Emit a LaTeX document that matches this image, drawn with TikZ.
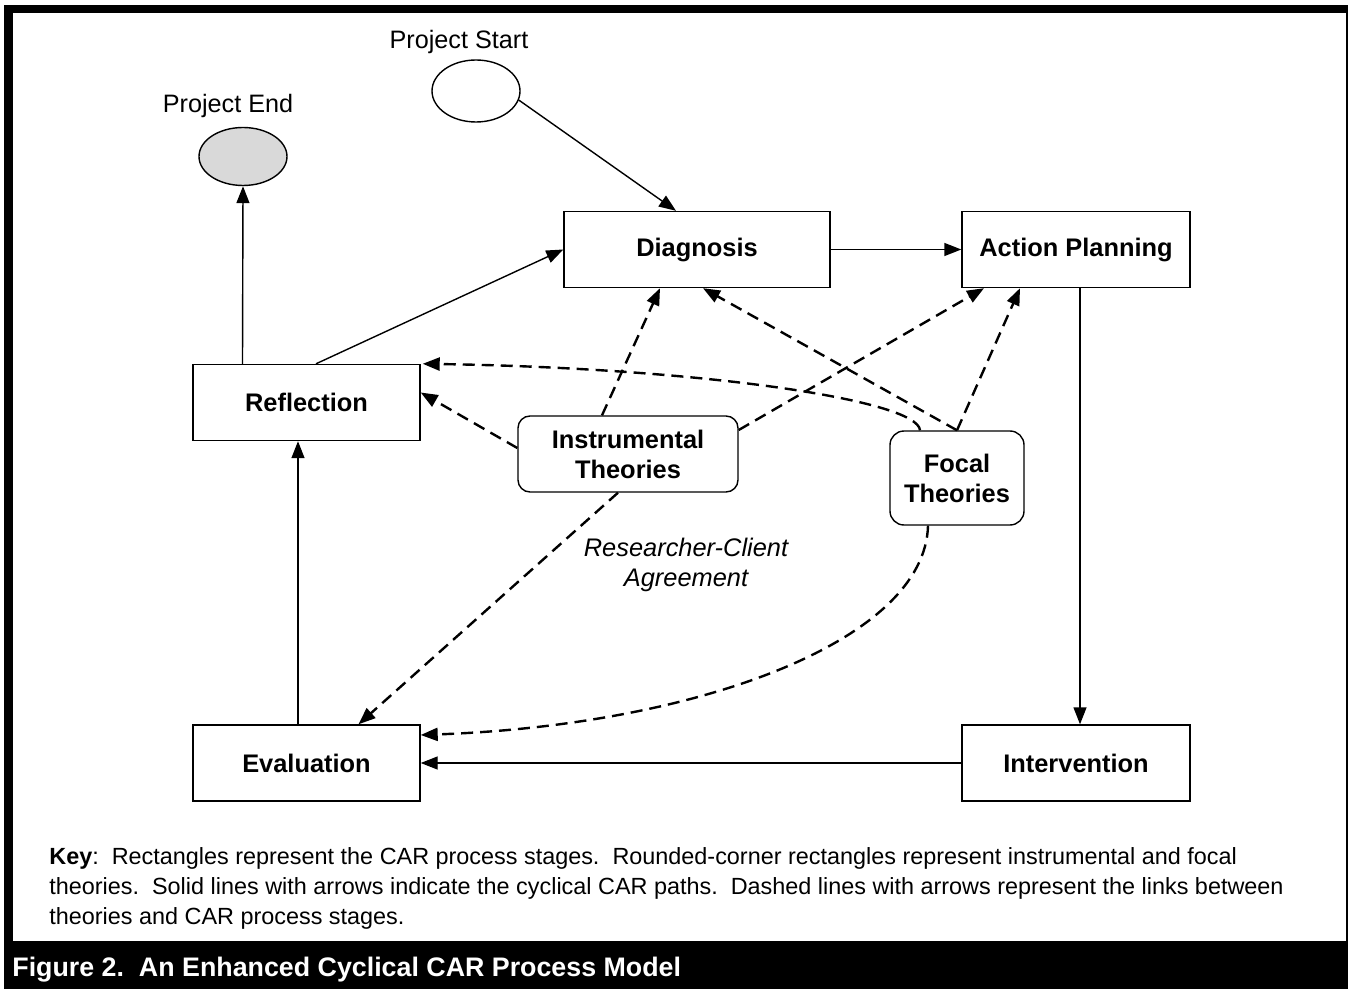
\documentclass[tikz,border=0pt]{standalone}
\usepackage{fontspec}
\setmainfont{Liberation Sans}
\usetikzlibrary{arrows.meta,shapes.geometric}
\definecolor{endgray}{HTML}{D9D9D9}

\begin{document}
\begin{tikzpicture}[x=0.5pt,y=-0.5pt,
  stagebox/.style={draw, line width=0.7pt, minimum width=114pt, minimum height=38pt,
    inner sep=0pt, font=\fontsize{12.7}{15}\selectfont\bfseries},
  theorybox/.style={draw, line width=0.7pt, rounded corners=7pt, inner sep=0pt,
    align=center, font=\fontsize{12.7}{15}\selectfont\bfseries},
  endpoint/.style={draw, ellipse, line width=0.7pt, inner sep=0pt,
    minimum width=44pt, minimum height=31pt},
  plainlabel/.style={inner sep=0pt, font=\fontsize{12.6}{15}\selectfont},
  keytext/.style={inner sep=0pt, anchor=base west, font=\fontsize{11.7}{15}\selectfont},
  cyclepath/.style={line width=0.7pt, -{Triangle[length=8.5pt,width=6.5pt]}},
  theorylink/.style={line width=1.2pt, dash pattern=on 6pt off 3.5pt,
    -{Triangle[length=8.5pt,width=6.5pt]}},
]
\useasboundingbox (0,0) rectangle (1348,989);

% frame and caption bar
\fill[black] (4,5) rectangle (1348,989);
\fill[white] (13,13) rectangle (1346,941);

% process stages
\node[stagebox, minimum width=133pt] (diag) at (697,249.5) {Diagnosis};
\node[stagebox] (plan) at (1076,249.5) {Action Planning};
\node[stagebox, minimum width=113.5pt] (refl) at (306.5,402.5) {Reflection};
\node[stagebox, minimum width=113.5pt] (eval) at (306.5,763) {Evaluation};
\node[stagebox] (intv) at (1076,763) {Intervention};

% theories
\node[theorybox, minimum width=110pt, minimum height=38pt, rounded corners=6pt]
  (inst) at (628,454) {Instrumental\\Theories};
\node[theorybox, minimum width=67pt, minimum height=47pt]
  (focal) at (957,478) {Focal\\Theories};

% start and end of the project
\node[endpoint] (start) at (476,91) {};
\node[endpoint, fill=endgray, minimum height=29pt] (end) at (243,156.5) {};
\node[plainlabel] (startlbl) at (459,42) {Project Start};
\node[plainlabel] (endlbl) at (228,106) {Project End};
\node[plainlabel, font=\fontsize{12.7}{15}\selectfont\itshape, align=center]
  (rca) at (686,565) {Researcher-Client\\Agreement};

% cyclical CAR paths
\draw[cyclepath] (start.-12) -- ([xshift=-10.5pt]diag.north);
\draw[cyclepath] (diag.east) -- (plan.west);
\draw[cyclepath] ([xshift=2pt]plan.south) -- ([xshift=2pt]intv.north);
\draw[cyclepath] (intv.west) -- (eval.east);
\draw[cyclepath] ([xshift=-4.25pt]eval.north) -- ([xshift=-4.25pt]refl.south);
\draw[cyclepath] ([xshift=4.75pt]refl.north) -- (diag.west);
\draw[cyclepath] ([xshift=-32pt]refl.north) -- (end.south);

% links between theories and stages
\draw[theorylink] ([yshift=3pt]inst.west) -- ([yshift=5pt]refl.east);
\draw[theorylink] ([xshift=-13pt]inst.north) -- ([xshift=-18.5pt]diag.south);
\draw[theorylink] ([yshift=12pt]inst.east) -- ([xshift=-46pt]plan.south);
\draw[theorylink] ([xshift=-5pt]inst.south) -- ([xshift=26pt]eval.north);
\draw[theorylink] (focal.north) -- ([xshift=3pt]diag.south);
\draw[theorylink] (focal.north) -- ([xshift=-28pt]plan.south);
\draw[theorylink] ([xshift=-18.5pt]focal.north)
  .. controls (918,400) and (700,368) .. ([xshift=1pt]refl.north east);
\draw[theorylink] ([xshift=-14.5pt]focal.south)
  .. controls (925,640) and (700,725) .. ([yshift=14pt]eval.east);

% key
\node[keytext] (key1) at (49,864) {\textbf{Key}:\ \ Rectangles represent the CAR process stages.\ \ Rounded-corner rectangles represent instrumental and focal};
\node[keytext] (key2) at (49,894) {theories.\ \ Solid lines with arrows indicate the cyclical CAR paths.\ \ Dashed lines with arrows represent the links between};
\node[keytext] (key3) at (49,924) {theories and CAR process stages.};

% caption
\node[inner sep=0pt, anchor=base west, text=white, font=\fontsize{13.4}{15}\selectfont\bfseries]
  (caption) at (12,976) {Figure 2.\ \ An Enhanced Cyclical CAR Process Model};
\end{tikzpicture}
\end{document}
